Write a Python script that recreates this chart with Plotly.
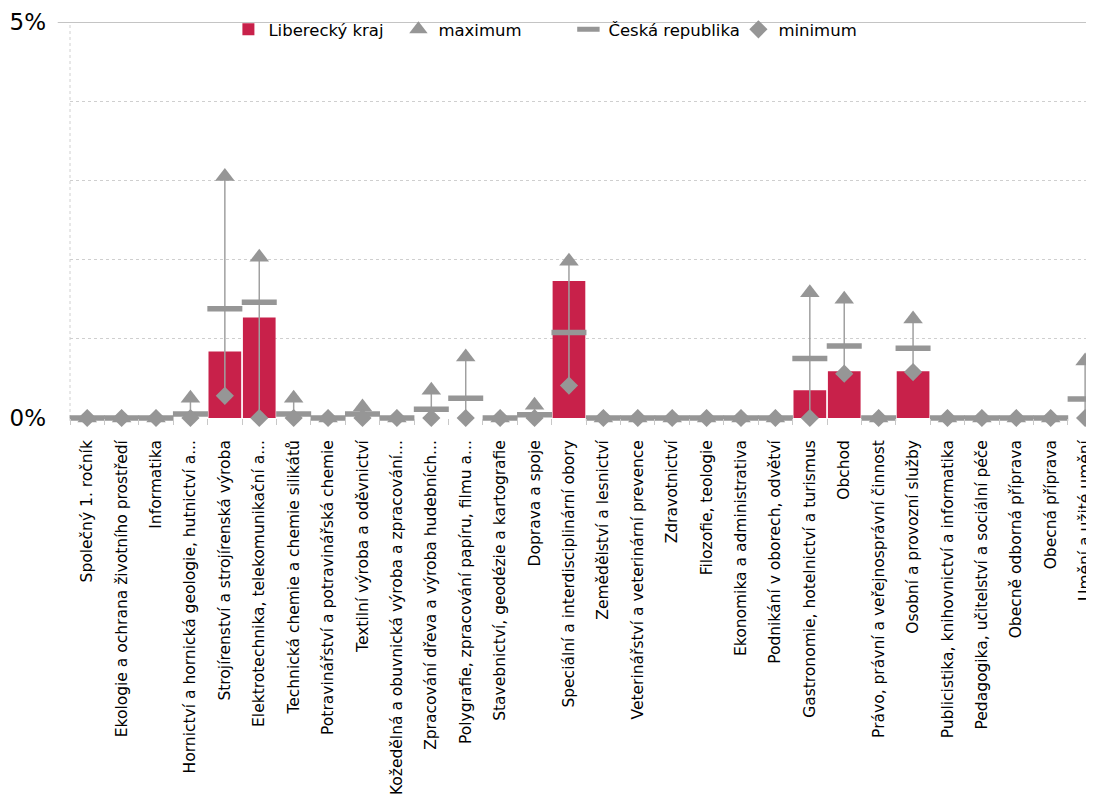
import plotly.graph_objects as go

categories = [
    "Společný 1. ročník",
    "Ekologie a ochrana životního prostředí",
    "Informatika",
    "Hornictví a hornická geologie, hutnictví a...",
    "Strojírenství a strojírenská výroba",
    "Elektrotechnika, telekomunikační a...",
    "Technická chemie a chemie silikátů",
    "Potravinářství a potravinářská chemie",
    "Textilní výroba a oděvnictví",
    "Kožedělná a obuvnická výroba a zpracování...",
    "Zpracování dřeva a výroba hudebních...",
    "Polygrafie, zpracování papíru, filmu a...",
    "Stavebnictví, geodézie a kartografie",
    "Doprava a spoje",
    "Speciální a interdisciplinární obory",
    "Zemědělství a lesnictví",
    "Veterinářství a veterinární prevence",
    "Zdravotnictví",
    "Filozofie, teologie",
    "Ekonomika a administrativa",
    "Podnikání v oborech, odvětví",
    "Gastronomie, hotelnictví a turismus",
    "Obchod",
    "Právo, právní a veřejnosprávní činnost",
    "Osobní a provozní služby",
    "Publicistika, knihovnictví a informatika",
    "Pedagogika, učitelství a sociální péče",
    "Obecně odborná příprava",
    "Obecná příprava",
    "Umění a užité umění",
]

liberecky = [0, 0, 0, 0, 0.84, 1.27, 0, 0, 0, 0, 0, 0, 0, 0, 1.73,
             0, 0, 0, 0, 0, 0, 0.35, 0.59, 0, 0.59, 0, 0, 0, 0, 0]
maximum = [0, 0, 0, 0.25, 3.05, 2.03, 0.25, 0, 0.14, 0, 0.35, 0.77, 0, 0.16, 1.98,
           0, 0, 0, 0, 0, 0, 1.58, 1.50, 0, 1.25, 0, 0, 0, 0, 0.72]
ceska_republika = [0, 0, 0, 0.05, 1.38, 1.46, 0.05, 0, 0.05, 0, 0.11, 0.25, 0, 0.04, 1.08,
                   0, 0, 0, 0, 0, 0, 0.75, 0.91, 0, 0.88, 0, 0, 0, 0, 0.24]
minimum = [0, 0, 0, 0, 0.28, 0, 0, 0, 0, 0, 0, 0, 0, 0, 0.41,
           0, 0, 0, 0, 0, 0, 0, 0.56, 0, 0.58, 0, 0, 0, 0, 0]

red = "#C8214A"
gray = "#969696"

fig = go.Figure()

fig.add_trace(go.Bar(
    x=categories, y=liberecky, name="Liberecký kraj",
    marker=dict(color=red, line=dict(width=0)),
))

# high-low lines between minimum and maximum
hl_x, hl_y = [], []
for c, lo, hi in zip(categories, minimum, maximum):
    hl_x += [c, c, None]
    hl_y += [lo, hi, None]
fig.add_trace(go.Scatter(
    x=hl_x, y=hl_y, mode="lines", line=dict(color="#A0A0A0", width=1.5),
    showlegend=False, hoverinfo="skip", cliponaxis=False,
))

fig.add_trace(go.Scatter(
    x=categories, y=maximum, mode="markers", name="maximum", cliponaxis=False,
    marker=dict(symbol="triangle-up", size=17, color=gray),
))
fig.add_trace(go.Scatter(
    x=categories, y=ceska_republika, mode="markers", name="Česká republika",
    cliponaxis=False,
    marker=dict(symbol="line-ew", size=25, color=gray,
                line=dict(color=gray, width=5.5)),
))
fig.add_trace(go.Scatter(
    x=categories, y=minimum, mode="markers", name="minimum", cliponaxis=False,
    marker=dict(symbol="diamond", size=14, color=gray),
))

# the page body adds an 8px margin, so the figure is made 8px smaller
fig.update_layout(
    width=1086, height=793,
    margin=dict(l=62, r=0, t=14, b=383),
    paper_bgcolor="white", plot_bgcolor="white",
    font=dict(family="DejaVu Sans", color="black", size=15),
    bargap=0.05,
    legend=dict(orientation="h", x=0.155, xanchor="left", y=1.025, yanchor="top",
                font=dict(size=16.5), bgcolor="rgba(0,0,0,0)", itemwidth=30,
                entrywidth=125, traceorder="normal"),
    shapes=[
        dict(type="line", xref="paper", yref="y", x0=-0.012, x1=1, y0=5, y1=5,
             line=dict(color="#B0B0B0", width=1.5), layer="below"),
        dict(type="line", xref="paper", yref="paper", x0=0, x1=0, y0=0, y1=1,
             line=dict(color="#D0D0D0", width=1, dash="dot"), layer="below"),
    ],
)

fig.update_xaxes(
    range=[-0.5, 29.2], tickangle=-90, showgrid=False, showline=False,
    ticks="outside", tickson="boundaries", ticklen=6, tickcolor="#C8C8C8",
    ticklabelstandoff=18, tickfont=dict(size=15.5),
)
fig.update_yaxes(
    range=[0, 5], tickvals=[0, 1, 2, 3, 4, 5],
    ticktext=["0%", "", "", "", "", "5%"],
    showgrid=True, gridcolor="#CFCFCF", griddash="dot", gridwidth=1,
    zeroline=False, showline=False, tickfont=dict(size=23),
    ticks="", ticklabelstandoff=23,
)

fig.write_html("out.html")
